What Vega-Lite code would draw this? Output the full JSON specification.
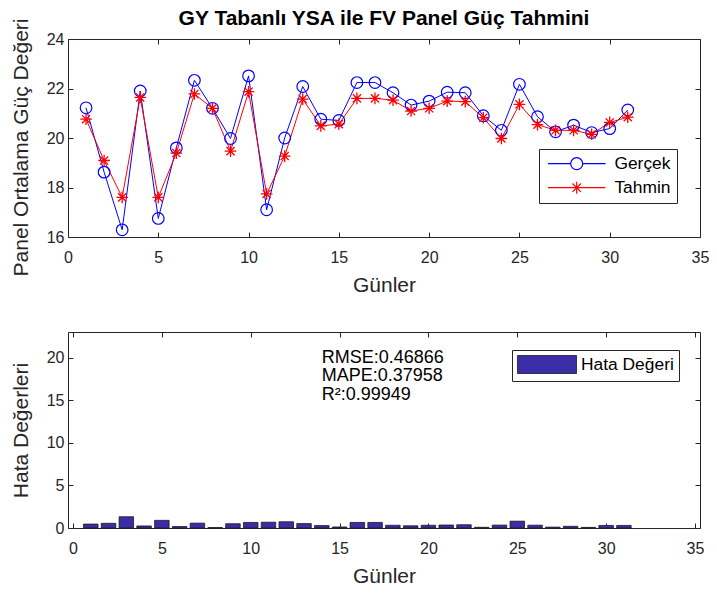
{
  "$schema": "https://vega.github.io/schema/vega-lite/v6.json",
  "padding": {"left": 10, "top": 7, "right": 0, "bottom": 0},
  "background": "white",
  "datasets": {
    "olcum": [
      {"gun":1,"seri":"Gerçek","deger":21.22},{"gun":2,"seri":"Gerçek","deger":18.62},{"gun":3,"seri":"Gerçek","deger":16.29},{"gun":4,"seri":"Gerçek","deger":21.9},{"gun":5,"seri":"Gerçek","deger":16.75},{"gun":6,"seri":"Gerçek","deger":19.6},{"gun":7,"seri":"Gerçek","deger":22.33},{"gun":8,"seri":"Gerçek","deger":21.2},{"gun":9,"seri":"Gerçek","deger":19.98},{"gun":10,"seri":"Gerçek","deger":22.51},{"gun":11,"seri":"Gerçek","deger":17.1},{"gun":12,"seri":"Gerçek","deger":20.0},{"gun":13,"seri":"Gerçek","deger":22.08},{"gun":14,"seri":"Gerçek","deger":20.76},{"gun":15,"seri":"Gerçek","deger":20.71},{"gun":16,"seri":"Gerçek","deger":22.24},{"gun":17,"seri":"Gerçek","deger":22.24},{"gun":18,"seri":"Gerçek","deger":21.83},{"gun":19,"seri":"Gerçek","deger":21.33},{"gun":20,"seri":"Gerçek","deger":21.49},{"gun":21,"seri":"Gerçek","deger":21.85},{"gun":22,"seri":"Gerçek","deger":21.83},{"gun":23,"seri":"Gerçek","deger":20.9},{"gun":24,"seri":"Gerçek","deger":20.31},{"gun":25,"seri":"Gerçek","deger":22.17},{"gun":26,"seri":"Gerçek","deger":20.86},{"gun":27,"seri":"Gerçek","deger":20.25},{"gun":28,"seri":"Gerçek","deger":20.52},{"gun":29,"seri":"Gerçek","deger":20.22},{"gun":30,"seri":"Gerçek","deger":20.38},{"gun":31,"seri":"Gerçek","deger":21.13},
      {"gun":1,"seri":"Tahmin","deger":20.76},{"gun":2,"seri":"Tahmin","deger":19.09},{"gun":3,"seri":"Tahmin","deger":17.6},{"gun":4,"seri":"Tahmin","deger":21.64},{"gun":5,"seri":"Tahmin","deger":17.6},{"gun":6,"seri":"Tahmin","deger":19.39},{"gun":7,"seri":"Tahmin","deger":21.78},{"gun":8,"seri":"Tahmin","deger":21.2},{"gun":9,"seri":"Tahmin","deger":19.47},{"gun":10,"seri":"Tahmin","deger":21.87},{"gun":11,"seri":"Tahmin","deger":17.74},{"gun":12,"seri":"Tahmin","deger":19.27},{"gun":13,"seri":"Tahmin","deger":21.57},{"gun":14,"seri":"Tahmin","deger":20.49},{"gun":15,"seri":"Tahmin","deger":20.56},{"gun":16,"seri":"Tahmin","deger":21.6},{"gun":17,"seri":"Tahmin","deger":21.6},{"gun":18,"seri":"Tahmin","deger":21.53},{"gun":19,"seri":"Tahmin","deger":21.09},{"gun":20,"seri":"Tahmin","deger":21.2},{"gun":21,"seri":"Tahmin","deger":21.49},{"gun":22,"seri":"Tahmin","deger":21.47},{"gun":23,"seri":"Tahmin","deger":20.82},{"gun":24,"seri":"Tahmin","deger":19.98},{"gun":25,"seri":"Tahmin","deger":21.36},{"gun":26,"seri":"Tahmin","deger":20.54},{"gun":27,"seri":"Tahmin","deger":20.31},{"gun":28,"seri":"Tahmin","deger":20.31},{"gun":29,"seri":"Tahmin","deger":20.15},{"gun":30,"seri":"Tahmin","deger":20.63},{"gun":31,"seri":"Tahmin","deger":20.84}
    ],
    "hata": [
      {"gun":1,"seri":"Hata Değeri","hata":0.46},{"gun":2,"seri":"Hata Değeri","hata":0.55},{"gun":3,"seri":"Hata Değeri","hata":1.32},{"gun":4,"seri":"Hata Değeri","hata":0.24},{"gun":5,"seri":"Hata Değeri","hata":0.9},{"gun":6,"seri":"Hata Değeri","hata":0.17},{"gun":7,"seri":"Hata Değeri","hata":0.57},{"gun":8,"seri":"Hata Değeri","hata":0.05},{"gun":9,"seri":"Hata Değeri","hata":0.5},{"gun":10,"seri":"Hata Değeri","hata":0.65},{"gun":11,"seri":"Hata Değeri","hata":0.68},{"gun":12,"seri":"Hata Değeri","hata":0.73},{"gun":13,"seri":"Hata Değeri","hata":0.52},{"gun":14,"seri":"Hata Değeri","hata":0.28},{"gun":15,"seri":"Hata Değeri","hata":0.12},{"gun":16,"seri":"Hata Değeri","hata":0.65},{"gun":17,"seri":"Hata Değeri","hata":0.65},{"gun":18,"seri":"Hata Değeri","hata":0.32},{"gun":19,"seri":"Hata Değeri","hata":0.26},{"gun":20,"seri":"Hata Değeri","hata":0.32},{"gun":21,"seri":"Hata Değeri","hata":0.35},{"gun":22,"seri":"Hata Değeri","hata":0.38},{"gun":23,"seri":"Hata Değeri","hata":0.08},{"gun":24,"seri":"Hata Değeri","hata":0.34},{"gun":25,"seri":"Hata Değeri","hata":0.8},{"gun":26,"seri":"Hata Değeri","hata":0.33},{"gun":27,"seri":"Hata Değeri","hata":0.1},{"gun":28,"seri":"Hata Değeri","hata":0.2},{"gun":29,"seri":"Hata Değeri","hata":0.07},{"gun":30,"seri":"Hata Değeri","hata":0.3},{"gun":31,"seri":"Hata Değeri","hata":0.3}
    ]
  },
  "spacing": 36,
  "resolve": {"scale": {"color": "independent"}, "legend": {"color": "independent"}},
  "vconcat": [
    {
      "width": 632,
      "height": 198,
      "title": {"text": "GY Tabanlı YSA ile FV Panel Güç Tahmini", "fontSize": 21, "fontWeight": "bold", "color": "#000000", "font": "Liberation Sans", "baseline": "alphabetic", "offset": -27.5, "anchor": "middle", "frame": "group"},
      "data": {"name": "olcum"},
      "layer": [
        {
          "mark": {"type": "line", "strokeWidth": 1},
          "encoding": {
            "x": {"field": "gun", "type": "quantitative", "scale": {"domain": [0, 35], "nice": false}, "axis": {"title": "Günler", "values": [0,5,10,15,20,25,30,35]}},
            "y": {"field": "deger", "type": "quantitative", "scale": {"domain": [16, 24], "nice": false, "zero": false}, "axis": {"title": "Panel Ortalama Güç Değeri", "values": [16,18,20,22,24], "titleY": 108}},
            "color": {"field": "seri", "type": "nominal", "scale": {"domain": ["Gerçek", "Tahmin"], "range": ["#0000ff", "#ff0000"]},
              "legend": {"orient": "none", "legendX": 471, "legendY": 110, "title": null, "padding": 6, "rowPadding": 5, "strokeColor": "#262626", "fillColor": "white", "labelFontSize": 17.4, "labelColor": "#000000", "symbolSize": 144, "symbolOffset": 23, "labelOffset": 29, "symbolStrokeWidth": 1.2,
                "encode": {"symbols": {"update": {"shape": {"signal": "datum.value === 'Gerçek' ? 'M-4.8,0L-1,0M1,0L4.8,0M-1,0A1,1 0 1,0 1,0A1,1 0 1,0 -1,0' : 'M-4.8,0L4.8,0M0,-1L0,1M-0.7,-0.7L0.7,0.7M-0.7,0.7L0.7,-0.7'"}, "fill": {"value": "transparent"}, "strokeWidth": {"value": 1.2}}}}}}
          }
        },
        {
          "transform": [{"filter": {"field": "seri", "equal": "Gerçek"}}],
          "mark": {"type": "point", "shape": "circle", "filled": false, "size": 135, "strokeWidth": 1.2, "opacity": 1, "color": "#0000ff"},
          "encoding": {
            "x": {"field": "gun", "type": "quantitative", "axis": {"orient": "top", "labels": false, "title": null, "values": [0,5,10,15,20,25,30,35]}},
            "y": {"field": "deger", "type": "quantitative", "axis": {"orient": "right", "labels": false, "title": null, "values": [16,18,20,22,24]}}
          }
        },
        {
          "transform": [{"filter": {"field": "seri", "equal": "Tahmin"}}],
          "mark": {"type": "point", "shape": "M0,-1L0,1M-1,0L1,0M-0.7,-0.7L0.7,0.7M-0.7,0.7L0.7,-0.7", "filled": false, "size": 135, "strokeWidth": 1.3, "opacity": 1, "color": "#ff0000"},
          "encoding": {
            "x": {"field": "gun", "type": "quantitative", "axis": null},
            "y": {"field": "deger", "type": "quantitative", "axis": null}
          }
        }
      ],
      "resolve": {"axis": {"x": "independent", "y": "independent"}}
    },
    {
      "width": 632,
      "height": 196,
      "layer": [
        {
          "data": {"name": "hata"},
          "mark": {"type": "bar", "width": 14.5, "stroke": "#1a1a1a", "strokeWidth": 0.8},
          "encoding": {
            "x": {"field": "gun", "type": "quantitative", "scale": {"domain": [0, 35], "nice": false}, "axis": {"title": "Günler", "values": [0,5,10,15,20,25,30,35]}},
            "y": {"field": "hata", "type": "quantitative", "scale": {"domain": [0, 23], "nice": false}, "axis": {"title": "Hata Değerleri", "values": [0,5,10,15,20]}},
            "color": {"field": "seri", "type": "nominal", "scale": {"domain": ["Hata Değeri"], "range": ["#3b2ca8"]},
              "legend": {"orient": "none", "legendX": 444, "legendY": 18, "title": null, "padding": 5, "strokeColor": "#262626", "fillColor": "white", "labelFontSize": 17.4, "labelColor": "#000000", "symbolSize": 324, "symbolOffset": 20.5, "labelOffset": 24.5, "symbolStrokeColor": "#1a1a1a", "symbolStrokeWidth": 0.8,
                "encode": {"symbols": {"update": {"shape": {"value": "M-3.28,-1L3.28,-1L3.28,1L-3.28,1Z"}, "stroke": {"value": "#1a1a1a"}}}}}}
          }
        },
        {
          "data": {"values": [{"metin": ["RMSE:0.46866", "MAPE:0.37958", "R²:0.99949"]}]},
          "mark": {"type": "text", "align": "left", "baseline": "middle", "fontSize": 18, "lineHeight": 18.5, "color": "#000000"},
          "encoding": {
            "text": {"field": "metin"},
            "x": {"datum": 14, "type": "quantitative", "axis": {"orient": "top", "labels": false, "title": null, "values": [0,5,10,15,20,25,30,35]}},
            "y": {"datum": 20, "type": "quantitative", "axis": {"orient": "right", "labels": false, "title": null, "values": [0,5,10,15,20]}}
          }
        }
      ],
      "resolve": {"axis": {"x": "independent", "y": "independent"}}
    }
  ],
  "config": {
    "font": "Liberation Sans",
    "view": {"stroke": null},
    "axis": {"grid": false, "domainColor": "#262626", "tickColor": "#262626", "labelColor": "#262626", "titleColor": "#262626", "labelFontSize": 16, "titleFontSize": 21, "titleFontWeight": "normal", "tickSize": -5, "titlePadding": 8, "domainWidth": 1, "tickWidth": 1, "labelFont": "Liberation Sans", "titleFont": "Liberation Sans", "labelFlush": false},
    "axisX": {"labelPadding": 17, "titlePadding": 9},
    "axisY": {"labelPadding": 9, "titlePadding": 15, "minExtent": 0},
    "legend": {"labelFont": "Liberation Sans"}
  }
}
